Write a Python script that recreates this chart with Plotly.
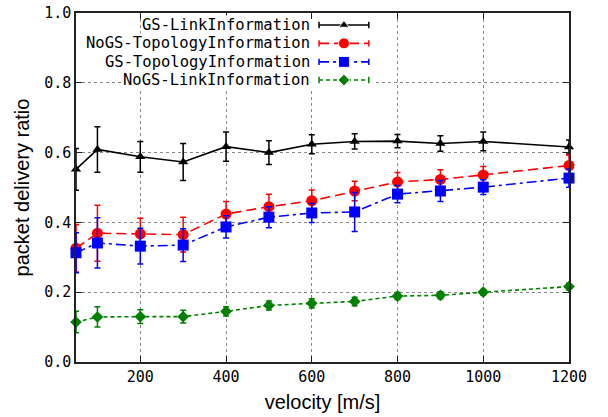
import plotly.graph_objects as go

velocity = [50, 100, 200, 300, 400, 500, 600, 700, 800, 900, 1000, 1200]

gs_link = [0.552, 0.609, 0.588, 0.573, 0.617, 0.600, 0.624, 0.632, 0.633, 0.626, 0.632, 0.616]
gs_link_err = [0.060, 0.065, 0.044, 0.053, 0.042, 0.034, 0.027, 0.022, 0.019, 0.022, 0.027, 0.020]

nogs_topo = [0.326, 0.369, 0.367, 0.365, 0.424, 0.445, 0.462, 0.490, 0.516, 0.523, 0.536, 0.563]
nogs_topo_err = [0.068, 0.080, 0.045, 0.050, 0.036, 0.036, 0.031, 0.028, 0.027, 0.028, 0.024, 0.030]

gs_topo = [0.313, 0.341, 0.332, 0.335, 0.387, 0.415, 0.427, 0.430, 0.481, 0.490, 0.501, 0.527]
gs_topo_err = [0.057, 0.072, 0.051, 0.047, 0.032, 0.030, 0.027, 0.056, 0.025, 0.030, 0.021, 0.026]

nogs_link = [0.1145, 0.129, 0.130, 0.130, 0.145, 0.162, 0.168, 0.1735, 0.189, 0.191, 0.200, 0.216]
nogs_link_err = [0.031, 0.029, 0.020, 0.018, 0.013, 0.013, 0.013, 0.012, 0.010, 0.010, 0.008, 0.010]

names = ["GS-LinkInformation", "NoGS-TopologyInformation", "GS-TopologyInformation", "NoGS-LinkInformation"]
x_ticks = [200, 400, 600, 800, 1000, 1200]
y_ticks = [0.0, 0.2, 0.4, 0.6, 0.8, 1.0]

series = [
    (gs_link, gs_link_err, "#000000", "solid", "triangle-up", 9),
    (nogs_topo, nogs_topo_err, "#ff0000", "10px,5px", "circle", 11),
    (gs_topo, gs_topo_err, "#0000ff", "10px,4px,3px,4px", "square", 11),
    (nogs_link, nogs_link_err, "#008000", "4px,3px", "diamond", 9),
]

fig = go.Figure()

for (vals, errs, col, dash, sym, msize), name in zip(series, names):
    fig.add_trace(go.Scatter(
        x=velocity, y=vals, mode="lines+markers", name=name,
        line=dict(color=col, width=1.6, dash=dash),
        marker=dict(color=col, symbol=sym, size=msize),
        error_y=dict(type="data", array=errs, visible=True, color=col, thickness=1.5, width=3),
        cliponaxis=False, showlegend=False,
    ))

# custom gnuplot-style key (text on the left, sample on the right)
row_y = [0.9656, 0.913, 0.860, 0.808]
text_right = 0.4767
samp_x0, samp_x1 = 0.493, 0.594
samp_mid = (samp_x0 + samp_x1) / 2

# white background behind samples
fig.add_trace(go.Scatter(
    x=[0.4767, 0.6085, 0.6085, 0.4767, 0.4767], y=[0.994, 0.994, 0.785, 0.785, 0.994],
    mode="lines", fill="toself", fillcolor="white", line=dict(width=0, color="white"),
    xaxis="x2", yaxis="y2", showlegend=False, hoverinfo="skip",
))
for (vals, errs, col, dash, sym, msize), name, ry in zip(series, names, row_y):
    fig.add_trace(go.Scatter(
        x=[samp_x0, samp_mid, samp_x1], y=[ry, ry, ry], mode="lines+markers",
        line=dict(color=col, width=1.6, dash=dash),
        marker=dict(color=col, symbol=sym, size=[0, msize, 0], opacity=1),
        error_y=dict(type="data", array=[0.009, 0, 0.009], visible=True, color=col, thickness=1.5, width=0),
        xaxis="x2", yaxis="y2", showlegend=False, hoverinfo="skip", cliponaxis=False,
    ))
    fig.add_annotation(
        x=text_right, y=ry, xref="paper", yref="paper", text=name, showarrow=False,
        xanchor="right", yanchor="middle", bgcolor="white", borderpad=0,
        font=dict(family="DejaVu Sans Mono", size=15.5, color="#000000"),
    )

axis_common = dict(
    showline=True, linecolor="#222222", linewidth=1.5, mirror="ticks",
    ticks="inside", ticklen=6, tickcolor="#222222", tickwidth=1,
    showgrid=True, gridcolor="#888888", griddash="dot", gridwidth=1,
    zeroline=False, automargin=False,
    tickfont=dict(family="DejaVu Sans Mono", size=15, color="#000000"),
)

title_font = dict(family="Liberation Sans", size=20, color="#000000")

fig.update_layout(
    width=608, height=417,
    margin=dict(l=76, r=39, t=13, b=55),
    paper_bgcolor="white", plot_bgcolor="white",
    showlegend=False,
    xaxis=dict(range=[50, 1200], tickvals=x_ticks, ticktext=[str(v) for v in x_ticks],
               title=dict(text="velocity [m/s]", font=title_font, standoff=10),
               **axis_common),
    yaxis=dict(range=[0, 1], tickvals=y_ticks, ticktext=[f"{v:.1f}" for v in y_ticks],
               title=dict(text="packet delivery ratio", font=title_font, standoff=9),
               **axis_common),
    xaxis2=dict(range=[0, 1], overlaying="x", visible=False, fixedrange=True),
    yaxis2=dict(range=[0, 1], overlaying="y", visible=False, fixedrange=True),
)

fig.write_html("out.html")
